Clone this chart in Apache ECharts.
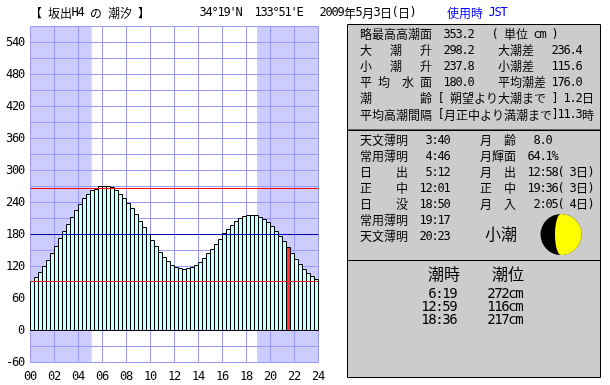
<!DOCTYPE html>
<html>
<head>
<meta charset="utf-8">
<title>tide</title>
<script src="https://cdn.jsdelivr.net/npm/echarts@6/dist/echarts.min.js"></script>
<style>
html,body{margin:0;padding:0;background:#fff;}
#main{width:610px;height:385px;}
</style>
</head>
<body>
<div id="main"></div>
<script>
// heights (cm) every 20 minutes
var tideValues = [
	91.9,99.4,108.8,120,131.3,144.4,157.5,172.5,185.6,198.8,211.9,225,
	236.3,247.5,255,262.5,264.4,270,270,270,268.1,262.5,255,247.5,
	238.1,228.8,217.5,204.4,193.1,180,168.8,157.5,146.3,136.9,129.4,121.9,
	118.1,116.3,114.4,116.3,118.1,121.9,127.5,135,144.4,151.9,161.3,170.6,
	181.9,189.4,196.9,204.4,210,213.8,215.6,215.6,215.6,211.9,208.1,202.5,
	195,185.6,176.3,166.9,155.6,144.4,133.1,123.8,114.4,106.9,101.3,95.6
];
var currentBar = 64;
var highLine = 266.25;
var meanLine = 180;
var lowLine = 91.875;
var nightBands = [[0, 5.1], [18.88, 24]];

var titleText = '【 坂出H4 の 潮汐 】';
var latText = "34°19'N";
var lonText = "133°51'E";
var dateText = '2009年5月3日(日)';
var zoneText = '使用時 JST';

var panel1Rows = [
	'略最高高潮面  353.2   ( 単位 cm )',
	'大   潮   升  298.2    大潮差   236.4',
	'小   潮   升  237.8    小潮差   115.6',
	'平 均  水 面  180.0    平均潮差 176.0',
	'潮        齢 [ 朔望より大潮まで ] 1.2日',
	'平均高潮間隔 [月正中より満潮まで]11.3時'
];
var panel2Left = [
	'天文薄明   3:40',
	'常用薄明   4:46',
	'日    出   5:12',
	'正    中  12:01',
	'日    没  18:50',
	'常用薄明  19:17',
	'天文薄明  20:23'
];
var panel2Right = [
	'月  齢   8.0',
	'月輝面  64.1%',
	'月  出  12:58( 3日)',
	'正  中  19:36( 3日)',
	'月  入   2:05( 4日)'
];
var tideName = '小潮';
var tideHeader = ['潮時', '潮位'];
var tideTimes = [' 6:19', '12:59', '18:36'];
var tideLevels = ['272cm', '116cm', '217cm'];

var categories = tideValues.map(function (v, i) { return String(i); });

// the source is a fixed pitch font, so every character gets its own cell
function richOf(size, color) {
	return {
		j: { fontFamily: '"Noto Sans CJK JP"', fontSize: size, width: size, align: 'center', color: color, fill: color },
		a: { fontFamily: '"DejaVu Sans Mono"', fontSize: size, width: size / 2, align: 'center', color: color, fill: color }
	};
}
function cells(str) {
	var out = '';
	for (var i = 0; i < str.length; i++) {
		var c = str.charAt(i);
		out += (c.charCodeAt(0) < 0x250 ? '{a|' : '{j|') + c + '}';
	}
	return out;
}
function label(str, x, y, size, color) {
	return {
		type: 'text', x: x, y: y, z: 20, silent: true,
		style: { text: cells(str), rich: richOf(size || 12, color || '#000'), verticalAlign: 'middle' }
	};
}

var graphics = [];
function box(y, h) {
	graphics.push({
		type: 'rect', z: 10, silent: true,
		shape: { x: 347.5, y: y, width: 253, height: h },
		style: { fill: '#cccccc', stroke: '#000', lineWidth: 1 }
	});
}
box(24.5, 105.5);
box(130.5, 130);
box(260.5, 117);

graphics.push(label(titleText, 30, 13));
graphics.push(label(latText, 200, 13));
graphics.push(label(lonText, 255, 13));
graphics.push(label(dateText, 320, 13));
graphics.push(label(zoneText, 447, 13, 12, '#0000ff'));

panel1Rows.forEach(function (s, i) {
	graphics.push(label(s, 360, 34.5 + i * 16.1));
});
panel2Left.forEach(function (s, i) {
	graphics.push(label(s, 360, 140.5 + i * 16));
});
panel2Right.forEach(function (s, i) {
	graphics.push(label(s, 480, 140.5 + i * 16));
});
graphics.push(label(tideName, 485, 234, 16));
graphics.push(label(tideHeader[0], 428, 274, 16));
graphics.push(label(tideHeader[1], 492, 274, 16));
tideTimes.forEach(function (s, i) {
	graphics.push(label(s, 422, 294.5 + i * 13, 14));
});
tideLevels.forEach(function (s, i) {
	graphics.push(label(s, 488, 294.5 + i * 13, 14));
});

// moon
graphics.push({ type: 'circle', z: 12, silent: true, shape: { cx: 561, cy: 234.5, r: 20.5 }, style: { fill: '#000' } });
graphics.push({ type: 'sector', z: 13, silent: true, shape: { cx: 561, cy: 234.5, r: 20.5, r0: 0, startAngle: -Math.PI / 2, endAngle: Math.PI / 2 }, style: { fill: '#ffff00' } });
graphics.push({ type: 'ellipse', z: 13, silent: true, shape: { cx: 561, cy: 234.5, rx: 6, ry: 20.5 }, style: { fill: '#ffff00' } });

var tickRich = richOf(12, '#000');

// plain bar series blurs the 1px outlines at this pitch, so snap them here
function renderTideBar(params, api) {
	var idx = api.value(0);
	var top = api.coord([idx, api.value(1)]);
	var base = api.coord([idx, 0]);
	var w = api.size([1, 0])[0];
	var x = Math.round(top[0] - w / 2 - 0.5) + 0.5;
	var y = Math.round(top[1] - 0.5) + 0.5;
	var y0 = Math.round(base[1] - 0.5) + 0.5;
	return {
		type: 'rect',
		shape: { x: x, y: y, width: Math.round(w), height: y0 - y },
		style: { fill: idx === currentBar ? '#ff3333' : '#ccffff', stroke: '#000', lineWidth: 1 }
	};
}

function levelLine(v, color) {
	return {
		type: 'line', xAxisIndex: 0, z: 6, silent: true,
		showSymbol: false, symbol: 'none',
		data: [[0, v], [24, v]],
		lineStyle: { color: color, width: 1 }
	};
}

var myChart = echarts.init(document.getElementById('main'));

var option = {
	animation: false,
	backgroundColor: '#fff',
	grid: { left: 30.5, top: 26.5, width: 288, height: 336, containLabel: false },
	xAxis: [
		{
			type: 'value', min: 0, max: 24, interval: 2, z: 2,
			axisLine: { show: false },
			axisTick: { show: false },
			axisLabel: {
				margin: 8, rich: tickRich,
				hideOverlap: false, showMinLabel: true, showMaxLabel: true,
				formatter: function (v) { return cells((v < 10 ? '0' : '') + v); }
			},
			splitLine: { show: true, lineStyle: { color: '#9999ff', width: 1 } }
		},
		{
			type: 'category', data: categories, show: false
		}
	],
	yAxis: {
		type: 'value', min: -60, max: 570, interval: 30, z: 2,
		axisLine: { show: false },
		axisTick: { show: false },
		axisLabel: {
			margin: 6, rich: tickRich,
			showMinLabel: true,
			formatter: function (v) { return v % 60 === 0 ? cells(String(v)) : ''; }
		},
		splitLine: { show: true, lineStyle: { color: '#9999ff', width: 1 } }
	},
	graphic: { elements: graphics },
	series: [
		{
			type: 'line', xAxisIndex: 0, data: [], z: 1, silent: true,
			markArea: {
				silent: true,
				itemStyle: { color: '#ccccff' },
				data: nightBands.map(function (b) {
					return [{ xAxis: b[0] }, { xAxis: b[1] }];
				})
			}
		},
		{
			type: 'custom', xAxisIndex: 1, z: 3, silent: true, clip: false,
			renderItem: renderTideBar,
			encode: { x: 0, y: 1 },
			data: tideValues.map(function (v, i) { return [i, v]; })
		},
		levelLine(highLine, '#ff0000'),
		levelLine(meanLine, '#0000aa'),
		levelLine(lowLine, '#ee2222')
	]
};
myChart.setOption(option);
</script>
</body>
</html>
